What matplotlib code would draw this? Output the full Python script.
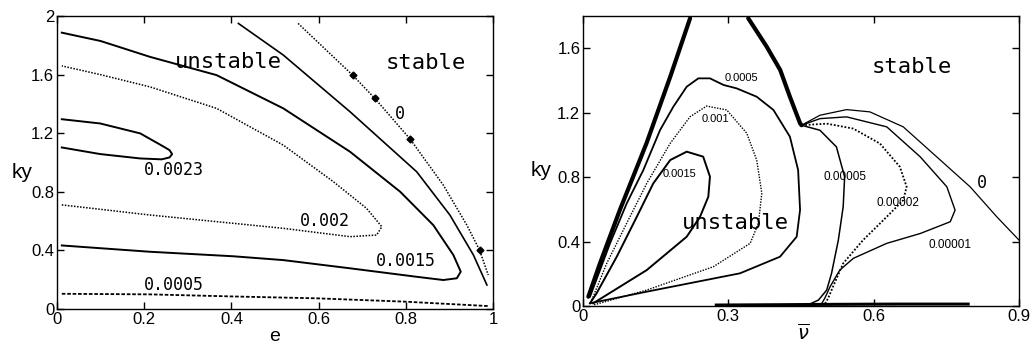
import matplotlib.pyplot as plt

# ---- left panel: growth-rate contours in (e, ky) ----
e_0005 = [0.011, 0.213, 0.4, 0.596, 0.8, 0.99]
ky_0005 = [0.104, 0.1, 0.086, 0.073, 0.05, 0.02]

e_0015 = [0.011, 0.213, 0.405, 0.519, 0.672, 0.825, 0.886, 0.917, 0.926,
          0.909, 0.863, 0.787, 0.672, 0.519, 0.366, 0.213, 0.1, 0.011]
ky_0015 = [0.434, 0.391, 0.36, 0.334, 0.278, 0.22, 0.198, 0.21, 0.255,
           0.369, 0.573, 0.801, 1.074, 1.37, 1.597, 1.722, 1.83, 1.887]

e_002 = [0.011, 0.213, 0.519, 0.672, 0.733, 0.745, 0.71, 0.634, 0.519, 0.366,
         0.213, 0.1, 0.011]
ky_002 = [0.711, 0.642, 0.551, 0.494, 0.505, 0.562, 0.687, 0.869, 1.119, 1.37,
          1.517, 1.6, 1.66]

e_0023 = [0.011, 0.099, 0.191, 0.24, 0.258, 0.264, 0.258, 0.245, 0.191, 0.099, 0.011]
ky_0023 = [1.103, 1.058, 1.028, 1.022, 1.035, 1.058, 1.085, 1.108, 1.199, 1.267, 1.296]

e_solid = [0.416, 0.519, 0.672, 0.825, 0.901, 0.955, 0.986]
ky_solid = [1.95, 1.734, 1.347, 0.937, 0.642, 0.369, 0.164]

e_zero = [0.553, 0.678, 0.729, 0.81, 0.886, 0.94, 0.969, 0.989]
ky_zero = [1.95, 1.597, 1.438, 1.16, 0.846, 0.573, 0.403, 0.232]
e_marks = [0.678, 0.729, 0.81, 0.969]
ky_marks = [1.597, 1.438, 1.16, 0.403]

left_labels = ["0.0023", "0.002", "0.0015", "0.0005", "0"]
left_label_x = [0.268, 0.615, 0.801, 0.268, 0.787]
left_label_y = [0.949, 0.604, 0.325, 0.161, 1.335]

# ---- right panel: contours in (nu bar, ky) ----
nu_bd_left = [0.011, 0.035, 0.076, 0.131, 0.18, 0.221]
ky_bd_left = [0.058, 0.265, 0.596, 1.01, 1.423, 1.786]
nu_bd_right = [0.341, 0.379, 0.407, 0.427, 0.448, 0.451]
ky_bd_right = [1.786, 1.61, 1.465, 1.299, 1.134, 1.122]

nu_0 = [0.451, 0.489, 0.544, 0.592, 0.661, 0.73, 0.799, 0.854, 0.9]
ky_0 = [1.122, 1.184, 1.219, 1.205, 1.112, 0.926, 0.74, 0.554, 0.409]
nu_0_low = [0.275, 0.4, 0.5, 0.65, 0.795]
ky_0_low = [0.006, 0.008, 0.01, 0.012, 0.012]

nu_1e5 = [0.451, 0.489, 0.544, 0.627, 0.696, 0.751, 0.768, 0.758, 0.696, 0.627,
          0.558, 0.53, 0.51, 0.499, 0.492]
ky_1e5 = [1.122, 1.163, 1.174, 1.112, 0.926, 0.74, 0.595, 0.523, 0.45, 0.389,
          0.296, 0.223, 0.12, 0.048, 0.012]

nu_2e5 = [0.451, 0.503, 0.558, 0.613, 0.654, 0.668, 0.661, 0.627, 0.578, 0.537,
          0.516, 0.506, 0.499]
ky_2e5 = [1.122, 1.132, 1.101, 1.008, 0.864, 0.74, 0.657, 0.554, 0.409, 0.265,
          0.12, 0.048, 0.012]

nu_5e5 = [0.451, 0.489, 0.523, 0.54, 0.537, 0.527, 0.513, 0.503, 0.486, 0.468]
ky_5e5 = [1.122, 1.091, 0.988, 0.802, 0.616, 0.409, 0.203, 0.099, 0.037, 0.012]

nu_0005 = [0.0144, 0.0557, 0.0902, 0.1245, 0.159, 0.1864, 0.214, 0.238, 0.262,
           0.29, 0.317, 0.3585, 0.393, 0.427, 0.444, 0.448, 0.441, 0.4066,
           0.324, 0.1315, 0.0144]
ky_0005_r = [0.058, 0.389, 0.637, 0.844, 1.092, 1.237, 1.361, 1.413, 1.413,
             1.372, 1.351, 1.299, 1.217, 1.051, 0.844, 0.596, 0.43, 0.306,
             0.203, 0.089, 0.017]

nu_001 = [0.018, 0.049, 0.09, 0.1315, 0.18, 0.221, 0.255, 0.2966, 0.338, 0.3585,
          0.369, 0.362, 0.345, 0.269, 0.1315, 0.021]
ky_001 = [0.037, 0.265, 0.513, 0.761, 1.01, 1.175, 1.241, 1.217, 1.072, 0.906,
          0.7, 0.513, 0.389, 0.244, 0.099, 0.006]

nu_0015 = [0.0144, 0.028, 0.0696, 0.111, 0.145, 0.18, 0.214, 0.248, 0.262,
           0.2586, 0.2415, 0.214, 0.1315, 0.021]
ky_0015_r = [0.017, 0.079, 0.306, 0.554, 0.761, 0.906, 0.958, 0.927, 0.803,
             0.678, 0.554, 0.43, 0.223, 0.017]

right_labels = ["0.0005", "0.001", "0.0015"]
right_label_x = [0.3275, 0.2725, 0.2]
right_label_y = [1.413, 1.159, 0.819]
right_mono_labels = ["0.00005", "0.00002", "0.00001"]
right_mono_x = [0.54, 0.651, 0.758]
right_mono_y = [0.802, 0.641, 0.378]

plt.rcParams['font.family'] = ['Liberation Sans', 'DejaVu Sans']
mono = 'DejaVu Sans Mono'

fig = plt.figure(figsize=(10.31, 3.45), dpi=100)
ax1 = fig.add_axes([0.0553, 0.1043, 0.4229, 0.849])
ax2 = fig.add_axes([0.5655, 0.113, 0.4229, 0.8406])

dot = (0, (1, 1))
dash = (0, (2, 1))

ax1.plot(e_0005, ky_0005, color='black', lw=1.3, ls=dash)
ax1.plot(e_0015, ky_0015, color='black', lw=1.4, ls='-')
ax1.plot(e_002, ky_002, color='black', lw=1.1, ls=dot)
ax1.plot(e_0023, ky_0023, color='black', lw=1.4, ls='-')
ax1.plot(e_solid, ky_solid, color='black', lw=1.2, ls='-')
ax1.plot(e_zero, ky_zero, color='black', lw=1.1, ls=dot)
ax1.plot(e_marks, ky_marks, 'D', color='black', ms=3.5)

for t, x, y in zip(left_labels, left_label_x, left_label_y):
    ax1.text(x, y, t, fontsize=12, family=mono, ha='center', va='center')
ax1.text(0.394, 1.687, "unstable", fontsize=16, family=mono, ha='center', va='center')
ax1.text(0.845, 1.68, "stable", fontsize=16, family=mono, ha='center', va='center')

ax1.set_xlim(0, 1)
ax1.set_ylim(0, 2)
ax1.set_xticks([0, 0.2, 0.4, 0.6, 0.8, 1])
ax1.set_xticklabels(['0', '0.2', '0.4', '0.6', '0.8', '1'])
ax1.set_yticks([0, 0.4, 0.8, 1.2, 1.6, 2])
ax1.set_yticklabels(['0', '0.4', '0.8', '1.2', '1.6', '2'])
ax1.text(-0.08, 0.467, "ky", fontsize=15, transform=ax1.transAxes, ha='center', va='center')
ax1.text(0.5, -0.095, "e", fontsize=14, transform=ax1.transAxes, ha='center', va='center')

lw_bd = 3.0
ax2.plot(nu_bd_left, ky_bd_left, color='black', lw=lw_bd, solid_capstyle='round')
ax2.plot(nu_bd_right, ky_bd_right, color='black', lw=lw_bd, solid_capstyle='round')
ax2.plot(nu_0, ky_0, color='black', lw=0.9, ls='-')
ax2.plot(nu_0_low, ky_0_low, color='black', lw=2.2, ls='-')
ax2.plot(nu_1e5, ky_1e5, color='black', lw=1.0, ls='-')
ax2.plot(nu_2e5, ky_2e5, color='black', lw=1.3, ls=dot)
ax2.plot(nu_5e5, ky_5e5, color='black', lw=1.1, ls='-')
ax2.plot(nu_0005, ky_0005_r, color='black', lw=1.3, ls='-')
ax2.plot(nu_001, ky_001, color='black', lw=1.0, ls=dot)
ax2.plot(nu_0015, ky_0015_r, color='black', lw=1.4, ls='-')

for t, x, y in zip(right_labels, right_label_x, right_label_y):
    ax2.text(x, y, t, fontsize=8, ha='center', va='center')
for t, x, y in zip(right_mono_labels, right_mono_x, right_mono_y):
    ax2.text(x, y, t, fontsize=8.5, ha='center', va='center')
ax2.text(0.823, 0.765, "0", fontsize=12, family=mono, ha='center', va='center')
ax2.text(0.678, 1.484, "stable", fontsize=16, family=mono, ha='center', va='center')
ax2.text(0.3137, 0.513, "unstable", fontsize=16, family=mono, ha='center', va='center')

ax2.set_xlim(0, 0.9)
ax2.set_ylim(0, 1.8)
ax2.set_xticks([0, 0.3, 0.6, 0.9])
ax2.set_xticklabels(['0', '0.3', '0.6', '0.9'])
ax2.set_yticks([0, 0.4, 0.8, 1.2, 1.6])
ax2.set_yticklabels(['0', '0.4', '0.8', '1.2', '1.6'])
ax2.text(-0.096, 0.469, "ky", fontsize=15, transform=ax2.transAxes, ha='center', va='center')
ax2.text(0.505, -0.095, r"$\overline{\nu}$", fontsize=14, transform=ax2.transAxes,
         ha='center', va='center')

for ax in (ax1, ax2):
    ax.tick_params(direction='in', length=5, width=1, labelsize=12, pad=2,
                   top=True, right=True)
    for sp in ax.spines.values():
        sp.set_linewidth(1.0)

fig.savefig('out.png', dpi=100)
